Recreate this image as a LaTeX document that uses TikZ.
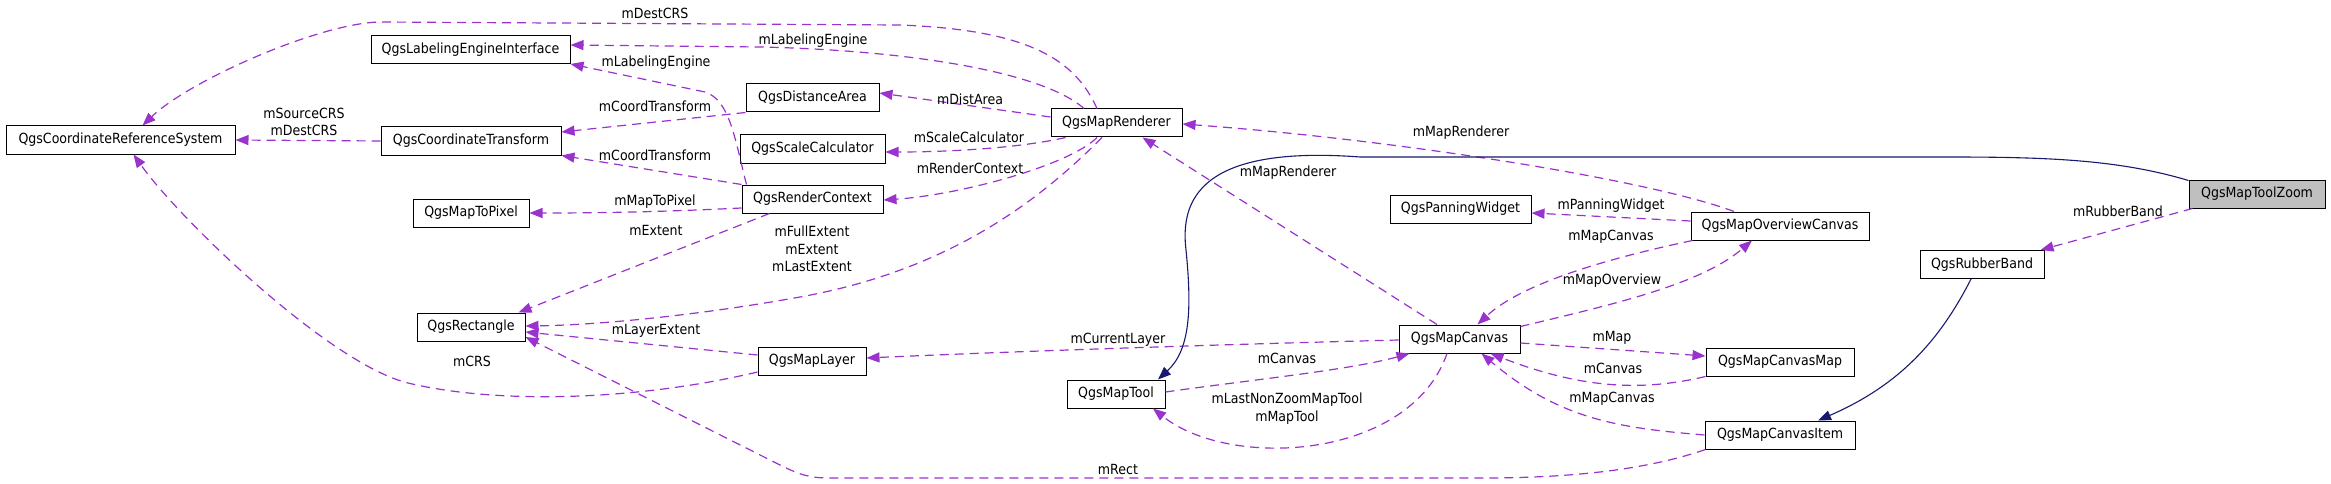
\documentclass[tikz,border=0pt]{standalone}
\usepackage{fontspec}
\setmainfont{DejaVu Sans}[FakeStretch=0.9]
\usetikzlibrary{arrows.meta}
\definecolor{deppurple}{HTML}{9A32CD}
\definecolor{inhnavy}{HTML}{191970}
\definecolor{focusgray}{HTML}{BFBFBF}
\begin{document}
\begin{tikzpicture}[x=1pt,y=-1pt,
  box/.style={draw=black, line width=1pt, fill=white, minimum height=28pt, inner sep=0pt,
    font=\fontsize{14}{17.5}\selectfont},
  lbl/.style={inner sep=0pt, align=center, font=\fontsize{14}{17.5}\selectfont},
  dep/.style={draw=deppurple, line width=1.2pt, dash pattern=on 9pt off 6pt,
    -{Triangle[length=13pt,width=10pt,fill=deppurple]}},
  inh/.style={draw=inhnavy, line width=1.1pt,
    -{Triangle[length=13pt,width=10pt,fill=inhnavy]}}]
\useasboundingbox[fill=white] (0,0) rectangle (2331,484);

% nodes
\node[box, minimum width=229pt] (crs) at (120.5,140) {QgsCoordinateReferenceSystem};
\node[box, minimum width=199pt] (lei) at (470.5,49.5) {QgsLabelingEngineInterface};
\node[box, minimum width=180pt] (ct) at (471,141) {QgsCoordinateTransform};
\node[box, minimum width=116pt] (mtp) at (471,213) {QgsMapToPixel};
\node[box, minimum width=108pt] (rect) at (471,327) {QgsRectangle};
\node[box, minimum width=133pt] (da) at (812.5,98) {QgsDistanceArea};
\node[box, minimum width=145pt] (sc) at (812.5,149) {QgsScaleCalculator};
\node[box, minimum width=141pt] (rc) at (812.5,199) {QgsRenderContext};
\node[box, minimum width=108pt] (ml) at (812,361) {QgsMapLayer};
\node[box, minimum width=131pt] (mr) at (1116.5,123) {QgsMapRenderer};
\node[box, minimum width=98pt] (mt) at (1116,394) {QgsMapTool};
\node[box, minimum width=121pt] (mc) at (1459.5,339) {QgsMapCanvas};
\node[box, minimum width=141pt] (pw) at (1460.5,209) {QgsPanningWidget};
\node[box, minimum width=178pt] (moc) at (1780,226) {QgsMapOverviewCanvas};
\node[box, minimum width=148pt] (mcm) at (1780,362) {QgsMapCanvasMap};
\node[box, minimum width=150pt] (mci) at (1780,435) {QgsMapCanvasItem};
\node[box, minimum width=124pt] (rb) at (1982,264.5) {QgsRubberBand};
\node[box, minimum width=136pt, fill=focusgray] (mtz) at (2257,194) {QgsMapToolZoom};

% dependency edges
\draw[dep] ([xshift=-19.5pt]mr.north) .. controls (1075,60) and (1030,30) .. (900,25) -- (380,22) .. controls (320,23) and (190,80) .. ([xshift=22pt]crs.north);
\draw[dep] ([xshift=-32.5pt]mr.north) .. controls (1040,70) and (900,50) .. (760,47) -- ([yshift=4.5pt]lei.east);
\draw[dep] ([xshift=5pt]rc.north west) .. controls (735,140) and (730,100) .. (705,92) -- (lei.south east);
\draw[dep] (da.south west) -- ([yshift=9pt]ct.east);
\draw[dep] (rc.north west) -- (ct.south east);
\draw[dep] (ct.west) -- (crs.east);
\draw[dep] ([yshift=-11pt]ml.west) .. controls (640,400) and (500,405) .. (408,383) .. controls (330,364) and (180,220) .. ([xshift=13pt]crs.south);
\draw[dep] ([yshift=-9pt]rc.west) .. controls (660,212) and (600,213) .. (mtp.east);
\draw[dep] ([xshift=28pt]rc.south west) -- ([xshift=-7pt]rect.north east);
\draw[dep] ([xshift=-14.5pt]mr.south) .. controls (1040,200) and (950,270) .. (800,297) .. controls (700,315) and (600,325) .. ([yshift=1pt]rect.east);
\draw[dep] ([yshift=6pt]ml.west) -- ([yshift=-5pt]rect.east);
\draw[dep] ([xshift=1pt]mci.south west) .. controls (1640,472) and (1560,478) .. (1480,478) -- (830,478) .. controls (810,478) and (800,475) .. (780,465) -- ([yshift=-10pt]rect.east);
\draw[dep] ([yshift=-1pt]mc.west) .. controls (1200,345) and (1000,352) .. ([yshift=3pt]ml.east);
\draw[dep] ([xshift=-46pt]moc.north) .. controls (1650,180) and (1400,140) .. ([yshift=-1pt]mr.east);
\draw[dep] ([xshift=-22.5pt]mc.north) -- ([xshift=26pt]mr.south);
\draw[dep] ([yshift=5pt]moc.west) -- ([yshift=-4pt]pw.east);
\draw[dep] ([xshift=2pt]moc.south west) .. controls (1600,260) and (1520,285) .. ([xshift=18pt]mc.north);
\draw[dep] ([yshift=-2pt]mc.north east) .. controls (1610,305) and (1700,285) .. ([xshift=-28pt]moc.south);
\draw[dep] ([yshift=-4pt]mc.east) -- ([yshift=6pt]mcm.west);
\draw[dep] (mcm.south west) .. controls (1640,392) and (1580,388) .. ([xshift=-30pt]mc.south east);
\draw[dep] (mci.west) .. controls (1620,428) and (1560,420) .. ([xshift=22pt]mc.south);
\draw[dep] ([yshift=2pt]mt.east) .. controls (1250,380) and (1350,370) .. ([xshift=11pt]mc.south west);
\draw[dep] ([xshift=-12.5pt]mc.south) .. controls (1410,460) and (1230,470) .. ([xshift=37pt]mt.south);
\draw[dep] ([xshift=4pt]mtz.south west) -- ([xshift=-4pt]rb.north east);
\draw[dep] ([yshift=6pt]mr.west) -- ([yshift=5pt]da.east);
\draw[dep] ([xshift=15pt]mr.south west) .. controls (1020,148) and (950,152) .. ([yshift=-3pt]sc.east);
\draw[dep] ([xshift=-19.5pt]mr.south) .. controls (1070,165) and (960,195) .. ([yshift=-1pt]rc.east);

% inheritance edges
\draw[inh] ([yshift=-1pt]mtz.north west) .. controls (2120,160) and (2050,157) .. (1950,157) -- (1360,157) .. controls (1200,145) and (1180,200) .. (1186,250) .. controls (1192,310) and (1190,350) .. ([xshift=42pt]mt.north);
\draw[inh] ([xshift=-11pt]rb.south) .. controls (1940,340) and (1900,385) .. ([xshift=38pt]mci.north);

% labels
\node[lbl] (l1) at (655,13) {mDestCRS};
\node[lbl] (l2) at (813,41) {mLabelingEngine};
\node[lbl] (l3) at (656,63) {mLabelingEngine};
\node[lbl] (l4) at (655,106) {mCoordTransform};
\node[lbl] (l5) at (655,155) {mCoordTransform};
\node[lbl] (l6) at (304,122) {mSourceCRS\\mDestCRS};
\node[lbl] (l7) at (655,202) {mMapToPixel};
\node[lbl] (l8) at (656,230) {mExtent};
\node[lbl] (l9) at (812,249) {mFullExtent\\mExtent\\mLastExtent};
\node[lbl] (l10) at (656,331) {mLayerExtent};
\node[lbl] (l11) at (472,361) {mCRS};
\node[lbl] (l12) at (1118,469) {mRect};
\node[lbl] (l13) at (1118,340) {mCurrentLayer};
\node[lbl] (l14) at (1461,133) {mMapRenderer};
\node[lbl] (l15) at (1288,173) {mMapRenderer};
\node[lbl] (l16) at (1611,206) {mPanningWidget};
\node[lbl] (l17) at (1611,237) {mMapCanvas};
\node[lbl] (l18) at (1612,281) {mMapOverview};
\node[lbl] (l19) at (1612,338) {mMap};
\node[lbl] (l20) at (1613,368) {mCanvas};
\node[lbl] (l21) at (1612,399) {mMapCanvas};
\node[lbl] (l22) at (1287,358) {mCanvas};
\node[lbl] (l23) at (1287,408.5) {mLastNonZoomMapTool\\mMapTool};
\node[lbl] (l24) at (2118,211) {mRubberBand};
\node[lbl] (l25) at (970,99) {mDistArea};
\node[lbl] (l26) at (969,137) {mScaleCalculator};
\node[lbl] (l27) at (970,168) {mRenderContext};
\end{tikzpicture}
\end{document}
